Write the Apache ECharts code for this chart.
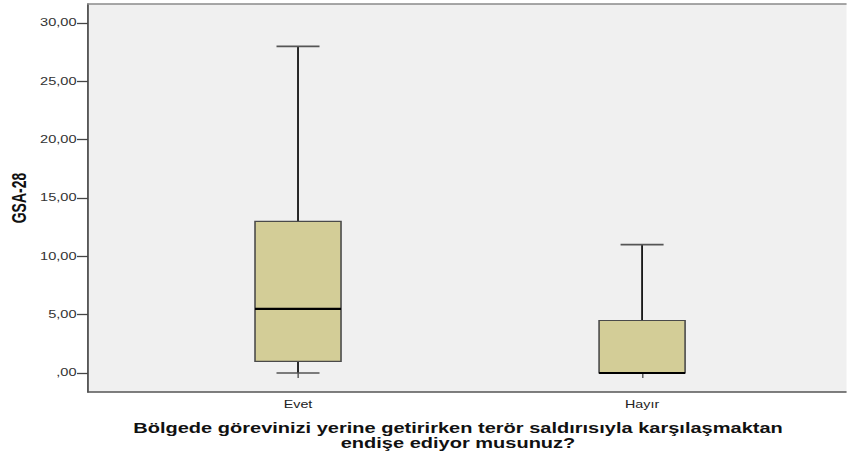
<!DOCTYPE html>
<html>
<head>
<meta charset="utf-8">
<script src="https://cdn.jsdelivr.net/npm/echarts@6/dist/echarts.min.js"></script>
<style>
  html, body { margin: 0; padding: 0; background: #ffffff; }
  #wrap { width: 847px; height: 451px; overflow: hidden; position: relative; }
  /* the chart is laid out narrow and widened horizontally */
  #chart { position: absolute; left: 0; top: 0; height: 451px; transform-origin: 0 0; }
</style>
</head>
<body>
<div id="wrap"><div id="chart"></div></div>
<script>
// GSA-28 scores by answer group
const categories = ['Evet', 'Hayır'];
const whiskerLow = [0, 0];
const quartile1 = [1, 0];
const median = [5.5, 0];
const quartile3 = [13, 4.5];
const whiskerHigh = [28, 11];

const yAxisTitle = 'GSA-28';
const xAxisTitleLines = [
  'Bölgede görevinizi yerine getirirken terör saldırısıyla karşılaşmaktan',
  'endişe ediyor musunuz?'
];

const STRETCH = 1.43;
const W = 847 / STRETCH;
const el = document.getElementById('chart');
el.style.width = W + 'px';
el.style.transform = 'scaleX(' + STRETCH + ')';

const boxData = categories.map((c, i) => [i, whiskerLow[i], quartile1[i], median[i], quartile3[i], whiskerHigh[i]]);

const chart = echarts.init(el, null, { renderer: 'svg', width: W, height: 451 });

function renderBox(params, api) {
  const x = api.value(0);
  const lo = api.coord([x, api.value(1)]);
  const b1 = api.coord([x, api.value(2)]);
  const md = api.coord([x, api.value(3)]);
  const b3 = api.coord([x, api.value(4)]);
  const hi = api.coord([x, api.value(5)]);
  const band = api.size([1, 0])[0];
  const bw = band * 0.25;
  const cw = bw * 0.5;
  const cx = md[0];
  const whisker = { stroke: '#1a1a1a', lineWidth: 1.3 };
  const cap = { stroke: '#555555', lineWidth: 1.6 };
  return {
    type: 'group',
    children: [
      { type: 'line', shape: { x1: cx, y1: hi[1], x2: cx, y2: b3[1] }, style: whisker },
      { type: 'line', shape: { x1: cx, y1: b1[1], x2: cx, y2: lo[1] }, style: whisker },
      { type: 'line', shape: { x1: cx - cw / 2, y1: hi[1], x2: cx + cw / 2, y2: hi[1] }, style: cap },
      { type: 'line', shape: { x1: cx - cw / 2, y1: lo[1], x2: cx + cw / 2, y2: lo[1] }, style: cap },
      { type: 'rect', shape: { x: cx - bw / 2, y: b3[1], width: bw, height: b1[1] - b3[1] },
        style: { fill: '#d3cd97', stroke: '#4a4a4a', lineWidth: 1.1 } },
      { type: 'line', shape: { x1: cx - bw / 2, y1: md[1], x2: cx + bw / 2, y2: md[1] },
        style: { stroke: '#000000', lineWidth: 2.2 } }
    ]
  };
}

const titleStyle = {
  fontFamily: 'Liberation Sans, Arial, sans-serif',
  fontSize: 14,
  fontWeight: 'bold',
  color: '#111111'
};

const option = {
  backgroundColor: '#ffffff',
  animation: false,
  title: xAxisTitleLines.map((t, i) => ({
    text: t,
    left: 320.3,
    top: 420.5 + i * 15,
    textAlign: 'center',
    padding: 0,
    textStyle: Object.assign({ lineHeight: 15 }, titleStyle)
  })),
  grid: [
    { left: 88 / STRETCH, right: 0, top: 4, bottom: 59, show: true, backgroundColor: '#f0f0f0', borderWidth: 0,
      containLabel: false, outerBoundsMode: 'none' },
    { left: 88.1, right: 23, top: 23, bottom: 78, containLabel: false, outerBoundsMode: 'none' }
  ],
  xAxis: [
    { gridIndex: 0, type: 'value', min: 0, max: 1, position: 'bottom',
      axisLine: { show: true, lineStyle: { color: '#555555', width: 1.6 } },
      axisTick: { show: false }, axisLabel: { show: false }, splitLine: { show: false } },
    { gridIndex: 0, type: 'value', min: 0, max: 1, position: 'top',
      axisLine: { show: true, lineStyle: { color: '#8a8a8a', width: 1.6 } },
      axisTick: { show: false }, axisLabel: { show: false }, splitLine: { show: false } },
    { gridIndex: 1, type: 'category', data: categories, position: 'bottom', offset: 19,
      axisLine: { show: false },
      axisTick: { show: true, alignWithLabel: true, length: 5, lineStyle: { color: '#555555', width: 1 } },
      axisLabel: { margin: 7.5, fontFamily: 'Liberation Sans, Arial, sans-serif', fontSize: 10, color: '#222222' },
      splitLine: { show: false } }
  ],
  yAxis: [
    { gridIndex: 0, type: 'value', min: 0, max: 1, position: 'left',
      name: yAxisTitle, nameLocation: 'middle', nameRotate: 90, nameGap: 41.5,
      nameTextStyle: { fontFamily: 'Liberation Sans Narrow, Arial Narrow, Liberation Sans, sans-serif', fontSize: 14, fontWeight: 'bold', color: '#111111' },
      axisLine: { show: true, lineStyle: { color: '#555555', width: 1.3 } },
      axisTick: { show: false }, axisLabel: { show: false }, splitLine: { show: false } },
    { gridIndex: 1, type: 'value', min: 0, max: 30, interval: 5, position: 'left', offset: 88.1 - 88 / STRETCH,
      axisLine: { show: false },
      axisTick: { show: true, length: 7.7, lineStyle: { color: '#444444', width: 1.3 } },
      axisLabel: {
        margin: 8, fontFamily: 'Liberation Sans, Arial, sans-serif', fontSize: 10.2, color: '#333333',
        formatter: v => v === 0 ? ',00' : v.toFixed(2).replace('.', ',')
      },
      splitLine: { show: false } }
  ],
  series: [
    {
      type: 'custom',
      xAxisIndex: 2,
      yAxisIndex: 1,
      renderItem: renderBox,
      encode: { x: 0, y: [1, 2, 3, 4, 5] },
      data: boxData,
      clip: false
    }
  ]
};

chart.setOption(option);
</script>
</body>
</html>
